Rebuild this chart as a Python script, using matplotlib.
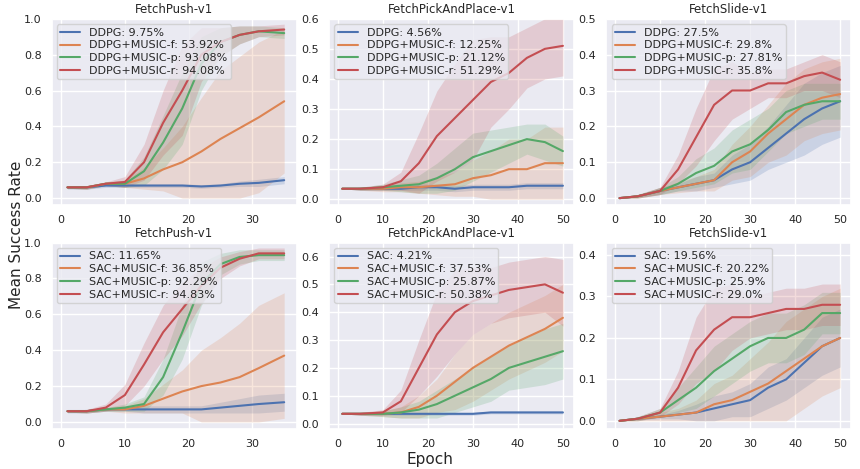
import numpy as np
import seaborn as sns
from matplotlib import pyplot as plt

sns.set_theme(style='darkgrid')
plt.rcParams['font.family'] = ['DejaVu Sans']

x_push = [1, 4, 7, 10, 13, 16, 19, 22, 25, 28, 31, 35]
x_long = [1, 5, 10, 14, 18, 22, 26, 30, 34, 38, 42, 46, 50]

# DDPG FetchPush
ddpg_push = [.06, .06, .07, .07, .07, .07, .07, .065, .07, .08, .085, .1]
ddpg_push_f = [.06, .06, .08, .08, .11, .16, .2, .26, .33, .39, .45, .54]
ddpg_push_p = [.06, .06, .08, .08, .15, .31, .5, .75, .87, .91, .93, .92]
ddpg_push_r = [.06, .06, .08, .09, .2, .42, .6, .8, .87, .91, .93, .94]
ddpg_push_sd = [.01, .01, .01, .01, .01, .01, .01, .01, .01, .015, .02, .02]
ddpg_push_f_sd = [.005, .01, .01, .02, .06, .12, .2, .3, .38, .4, .42, .4]
ddpg_push_p_sd = [.005, .01, .01, .02, .08, .15, .2, .15, .08, .05, .03, .03]
ddpg_push_r_sd = [.005, .01, .01, .03, .1, .18, .25, .15, .08, .05, .03, .03]

# DDPG FetchPickAndPlace
ddpg_pnp = [.035, .035, .035, .035, .04, .04, .035, .04, .04, .04, .045, .045, .045]
ddpg_pnp_f = [.035, .035, .035, .04, .04, .045, .05, .07, .08, .1, .1, .12, .12]
ddpg_pnp_p = [.035, .035, .04, .045, .05, .07, .1, .14, .16, .18, .2, .19, .16]
ddpg_pnp_r = [.035, .035, .04, .06, .12, .21, .27, .33, .39, .42, .47, .5, .51]
ddpg_pnp_sd = [0, .005, .005, .005, .01, .01, .01, .01, .01, .01, .01, .01, .01]
ddpg_pnp_f_sd = [0, .005, .01, .015, .02, .03, .04, .06, .08, .1, .1, .12, .12]
ddpg_pnp_p_sd = [0, .005, .01, .02, .03, .05, .07, .08, .07, .06, .05, .06, .05]
ddpg_pnp_r_sd = [0, .005, .01, .03, .1, .15, .18, .2, .15, .12, .1, .1, .1]

# DDPG FetchSlide
ddpg_slide = [0, .005, .02, .03, .04, .05, .08, .1, .14, .18, .22, .25, .27]
ddpg_slide_f = [0, .005, .02, .03, .04, .05, .1, .13, .18, .22, .26, .28, .29]
ddpg_slide_p = [0, .005, .02, .04, .07, .09, .13, .15, .19, .24, .26, .27, .27]
ddpg_slide_r = [0, .005, .02, .08, .17, .26, .3, .3, .32, .32, .34, .35, .33]
ddpg_slide_sd = [0, .003, .01, .01, .02, .02, .04, .05, .06, .08, .1, .1, .1]
ddpg_slide_f_sd = [0, .005, .01, .015, .02, .03, .05, .07, .08, .1, .1, .1, .1]
ddpg_slide_p_sd = [0, .005, .01, .02, .04, .05, .06, .07, .06, .06, .06, .05, .05]
ddpg_slide_r_sd = [0, .005, .01, .04, .08, .1, .08, .05, .04, .04, .04, .05, .05]

# SAC FetchPush
sac_push = [.06, .06, .07, .07, .07, .07, .07, .07, .08, .09, .1, .11]
sac_push_f = [.06, .06, .07, .07, .09, .13, .17, .2, .22, .25, .3, .37]
sac_push_p = [.06, .06, .07, .08, .1, .25, .5, .77, .88, .92, .93, .93]
sac_push_r = [.06, .06, .08, .15, .32, .5, .63, .76, .86, .91, .94, .94]
sac_push_sd = [.01, .01, .01, .01, .02, .02, .02, .02, .03, .04, .05, .05]
sac_push_f_sd = [.005, .01, .01, .02, .04, .08, .12, .2, .25, .3, .35, .35]
sac_push_p_sd = [.005, .01, .01, .02, .04, .1, .15, .12, .06, .04, .03, .03]
sac_push_r_sd = [.005, .01, .02, .06, .12, .15, .15, .1, .06, .04, .03, .03]

# SAC FetchPickAndPlace
sac_pnp = [.035, .035, .035, .035, .035, .035, .035, .035, .04, .04, .04, .04, .04]
sac_pnp_f = [.035, .035, .035, .04, .06, .1, .15, .2, .24, .28, .31, .34, .38]
sac_pnp_p = [.035, .035, .035, .04, .05, .07, .1, .13, .16, .2, .22, .24, .26]
sac_pnp_r = [.035, .035, .04, .08, .2, .32, .4, .44, .46, .48, .49, .5, .47]
sac_pnp_sd = [0, .005, .005, .005, .005, .005, .005, .005, .005, .005, .005, .005, .005]
sac_pnp_f_sd = [0, .005, .01, .02, .04, .06, .1, .12, .12, .12, .12, .12, .12]
sac_pnp_p_sd = [0, .005, .01, .02, .03, .05, .06, .07, .08, .08, .09, .1, .1]
sac_pnp_r_sd = [0, .005, .01, .04, .1, .15, .15, .12, .1, .1, .1, .1, .12]

# SAC FetchSlide
sac_slide = [0, .005, .01, .015, .02, .03, .04, .05, .08, .1, .14, .18, .2]
sac_slide_f = [0, .005, .01, .015, .02, .04, .05, .07, .09, .12, .15, .18, .2]
sac_slide_p = [0, .005, .02, .05, .08, .12, .15, .18, .2, .2, .22, .26, .26]
sac_slide_r = [0, .005, .02, .08, .17, .22, .25, .25, .26, .27, .27, .28, .28]
sac_slide_sd = [0, .003, .005, .01, .02, .03, .03, .04, .05, .05, .06, .07, .07]
sac_slide_f_sd = [0, .005, .01, .015, .03, .05, .06, .08, .1, .12, .12, .12, .12]
sac_slide_p_sd = [0, .005, .01, .03, .05, .06, .06, .06, .06, .06, .06, .05, .05]
sac_slide_r_sd = [0, .005, .01, .04, .08, .1, .08, .05, .05, .05, .05, .05, .05]

titles = ['FetchPush-v1', 'FetchPickAndPlace-v1', 'FetchSlide-v1']
ddpg_labels = [['DDPG: 9.75%', 'DDPG+MUSIC-f: 53.92%', 'DDPG+MUSIC-p: 93.08%', 'DDPG+MUSIC-r: 94.08%'],
               ['DDPG: 4.56%', 'DDPG+MUSIC-f: 12.25%', 'DDPG+MUSIC-p: 21.12%', 'DDPG+MUSIC-r: 51.29%'],
               ['DDPG: 27.5%', 'DDPG+MUSIC-f: 29.8%', 'DDPG+MUSIC-p: 27.81%', 'DDPG+MUSIC-r: 35.8%']]
sac_labels = [['SAC: 11.65%', 'SAC+MUSIC-f: 36.85%', 'SAC+MUSIC-p: 92.29%', 'SAC+MUSIC-r: 94.83%'],
              ['SAC: 4.21%', 'SAC+MUSIC-f: 37.53%', 'SAC+MUSIC-p: 25.87%', 'SAC+MUSIC-r: 50.38%'],
              ['SAC: 19.56%', 'SAC+MUSIC-f: 20.22%', 'SAC+MUSIC-p: 25.9%', 'SAC+MUSIC-r: 29.0%']]

panels = [
    [(x_push, [ddpg_push, ddpg_push_f, ddpg_push_p, ddpg_push_r],
      [ddpg_push_sd, ddpg_push_f_sd, ddpg_push_p_sd, ddpg_push_r_sd], (-0.04, 1.0), 0.2),
     (x_long, [ddpg_pnp, ddpg_pnp_f, ddpg_pnp_p, ddpg_pnp_r],
      [ddpg_pnp_sd, ddpg_pnp_f_sd, ddpg_pnp_p_sd, ddpg_pnp_r_sd], (-0.02, 0.6), 0.1),
     (x_long, [ddpg_slide, ddpg_slide_f, ddpg_slide_p, ddpg_slide_r],
      [ddpg_slide_sd, ddpg_slide_f_sd, ddpg_slide_p_sd, ddpg_slide_r_sd], (-0.02, 0.5), 0.1)],
    [(x_push, [sac_push, sac_push_f, sac_push_p, sac_push_r],
      [sac_push_sd, sac_push_f_sd, sac_push_p_sd, sac_push_r_sd], (-0.04, 1.0), 0.2),
     (x_long, [sac_pnp, sac_pnp_f, sac_pnp_p, sac_pnp_r],
      [sac_pnp_sd, sac_pnp_f_sd, sac_pnp_p_sd, sac_pnp_r_sd], (-0.02, 0.65), 0.1),
     (x_long, [sac_slide, sac_slide_f, sac_slide_p, sac_slide_r],
      [sac_slide_sd, sac_slide_f_sd, sac_slide_p_sd, sac_slide_r_sd], (-0.02, 0.43), 0.1)],
]

colors = sns.color_palette('deep')[:4]
fig, axes = plt.subplots(2, 3, figsize=(8.6, 4.69), dpi=100)
for row in range(2):
    labels_row = ddpg_labels if row == 0 else sac_labels
    for col in range(3):
        ax = axes[row, col]
        xs, means, sds, ylim, step = panels[row][col]
        for i in range(4):
            m = np.array(means[i])
            s = np.array(sds[i])
            ax.fill_between(xs, np.clip(m - s, 0, 1), np.clip(m + s, 0, 1), color=colors[i], alpha=0.2, lw=0)
            ax.plot(xs, m, color=colors[i], lw=1.5, label=labels_row[col][i])
        ax.set_ylim(*ylim)
        ax.set_yticks(np.arange(0, ylim[1] + 1e-6, step))
        ax.set_xticks([0, 10, 20, 30] if xs is x_push else [0, 10, 20, 30, 40, 50])
        ax.set_xlim(-1.5 if xs is x_push else -2, 37 if xs is x_push else 52.5)
        ax.tick_params(labelsize=8, pad=1)
        ax.set_title(titles[col], fontsize=8.5, pad=4)
        ax.legend(loc='upper left', fontsize=8, handlelength=1.8, borderpad=0.3, labelspacing=0.25)

fig.supylabel('Mean Success Rate', fontsize=11, x=0.01)
fig.supxlabel('Epoch', fontsize=11, y=0.005)
plt.subplots_adjust(left=0.06, right=0.99, top=0.96, bottom=0.085, wspace=0.13, hspace=0.2)
plt.savefig('out.png')
